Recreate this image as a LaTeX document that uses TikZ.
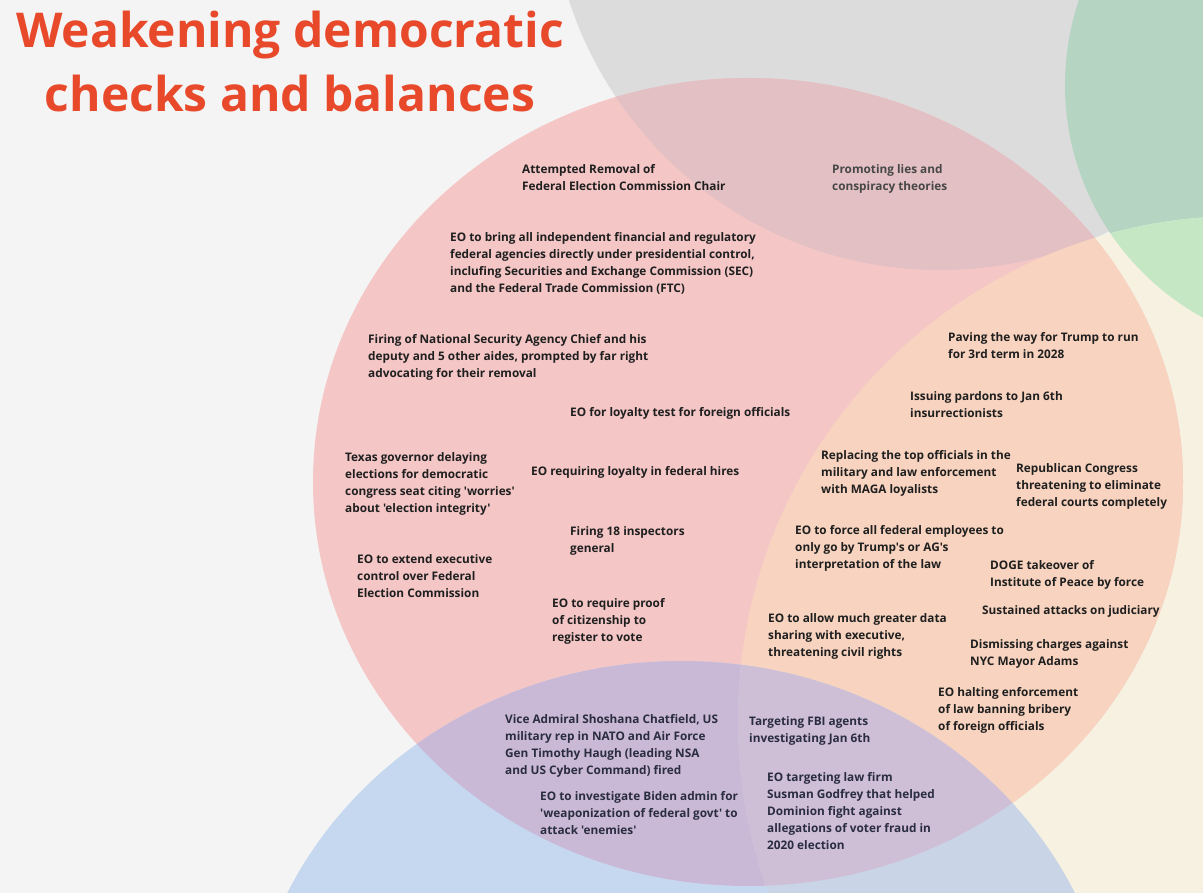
\documentclass[tikz,border=0pt]{standalone}
\usepackage{fontspec}
\newfontfamily\ofont{Open Sans}
\definecolor{bgc}{HTML}{F4F4F4}
\definecolor{grayc}{HTML}{DCDCDC}
\definecolor{greenc}{HTML}{B5D4C2}
\definecolor{creamc}{HTML}{F6F1E0}
\definecolor{greencream}{HTML}{C6E7C4}
\definecolor{mint}{HTML}{B2E4C9}
\definecolor{redc}{HTML}{F4C6C6}
\definecolor{redgray}{HTML}{E2C0C3}
\definecolor{orangec}{HTML}{F8D4C0}
\definecolor{bluec}{HTML}{C5D8F0}
\definecolor{purplec}{HTML}{CAB9D6}
\definecolor{bluecream}{HTML}{C9D4E6}
\definecolor{purple2}{HTML}{CEBED6}
\definecolor{titlec}{HTML}{E8492B}
\definecolor{slate}{HTML}{2A2C40}
\tikzset{
  lbl/.style={anchor=north west, align=left, inner sep=0pt, font=\ofont\fontsize{11.8}{17}\selectfont\bfseries, text=black!88},
  glbl/.style={lbl, text=black!72},
  blbl/.style={lbl, text=slate}
}
\def\Gray{(940,-120) circle (390pt)}
\def\Green{(1330,85) circle (265pt)}
\def\Cream{(1242,720) circle (504pt)}
\def\Red{(748,482) ellipse [x radius=435pt, y radius=404pt]}
\def\Blue{(681,1065) ellipse [x radius=435pt, y radius=404pt]}
\begin{document}
\begin{tikzpicture}[x=1pt,y=-1pt]
\useasboundingbox (0,0) rectangle (1203,893);
\clip (0,0) rectangle (1203,893);
\fill[bgc] (0,0) rectangle (1203,893);
\fill[grayc] \Gray;
\fill[greenc] \Green;
\fill[creamc] \Cream;
\begin{scope}\clip \Green; \fill[greencream] \Cream;
  \begin{scope}\clip \Gray; \fill[mint] \Cream; \end{scope}
\end{scope}
\fill[redc] \Red;
\begin{scope}\clip \Red; \fill[redgray] \Gray; \fill[orangec] \Cream; \end{scope}
\fill[bluec] \Blue;
\begin{scope}\clip \Blue; \fill[purplec] \Red; \fill[bluecream] \Cream;
  \begin{scope}\clip \Red; \fill[purple2] \Cream; \end{scope}
\end{scope}

\node[anchor=north, inner sep=0pt, align=center, text=titlec, font=\ofont\fontsize{48}{64}\selectfont\bfseries] (title) at (290,11) {Weakening democratic\\checks and balances};

\node[lbl] (n1) at (522,164) {Attempted Removal of\\Federal Election Commission Chair};
\node[glbl] (n2) at (832,164) {Promoting lies and\\conspiracy theories};
\node[lbl] (n3) at (450,232) {EO to bring all independent financial and regulatory\\federal agencies directly under presidential control,\\inclufing Securities and Exchange Commission (SEC)\\and the Federal Trade Commission (FTC)};
\node[lbl] (n4) at (368,334) {Firing of National Security Agency Chief and his\\deputy and 5 other aides, prompted by far right\\advocating for their removal};
\node[lbl] (n5) at (948,332) {Paving the way for Trump to run\\for 3rd term in 2028};
\node[lbl] (n6) at (910,391) {Issuing pardons to Jan 6th\\insurrectionists};
\node[lbl] (n7) at (570,407) {EO for loyalty test for foreign officials};
\node[lbl] (n8) at (345,452) {Texas governor delaying\\elections for democratic\\congress seat citing 'worries'\\about 'election integrity'};
\node[lbl] (n9) at (531,466) {EO requiring loyalty in federal hires};
\node[lbl] (n10) at (821,450) {Replacing the top officials in the\\military and law enforcement\\with MAGA loyalists};
\node[lbl] (n11) at (1016,463) {Republican Congress\\threatening to eliminate\\federal courts completely};
\node[lbl] (n12) at (570,526) {Firing 18 inspectors\\general};
\node[lbl] (n13) at (795,525) {EO to force all federal employees to\\only go by Trump's or AG's\\interpretation of the law};
\node[lbl] (n14) at (357,554) {EO to extend executive\\control over Federal\\Election Commission};
\node[lbl] (n15) at (990,560) {DOGE takeover of\\Institute of Peace by force};
\node[lbl] (n16) at (552,598) {EO to require proof\\of citizenship to\\register to vote};
\node[lbl] (n17) at (982,605) {Sustained attacks on judiciary};
\node[lbl] (n18) at (768,613) {EO to allow much greater data\\sharing with executive,\\threatening civil rights};
\node[lbl] (n19) at (970,639) {Dismissing charges against\\NYC Mayor Adams};
\node[lbl] (n20) at (938,687) {EO halting enforcement\\of law banning bribery\\of foreign officials};
\node[blbl] (n21) at (505,714) {Vice Admiral Shoshana Chatfield, US\\military rep in NATO and Air Force\\Gen Timothy Haugh (leading NSA\\and US Cyber Command) fired};
\node[blbl] (n22) at (749,716) {Targeting FBI agents\\investigating Jan 6th};
\node[blbl] (n23) at (540,791) {EO to investigate Biden admin for\\'weaponization of federal govt' to\\attack 'enemies'};
\node[blbl] (n24) at (767,772) {EO targeting law firm\\Susman Godfrey that helped\\Dominion fight against\\allegations of voter fraud in\\2020 election};
\end{tikzpicture}
\end{document}
